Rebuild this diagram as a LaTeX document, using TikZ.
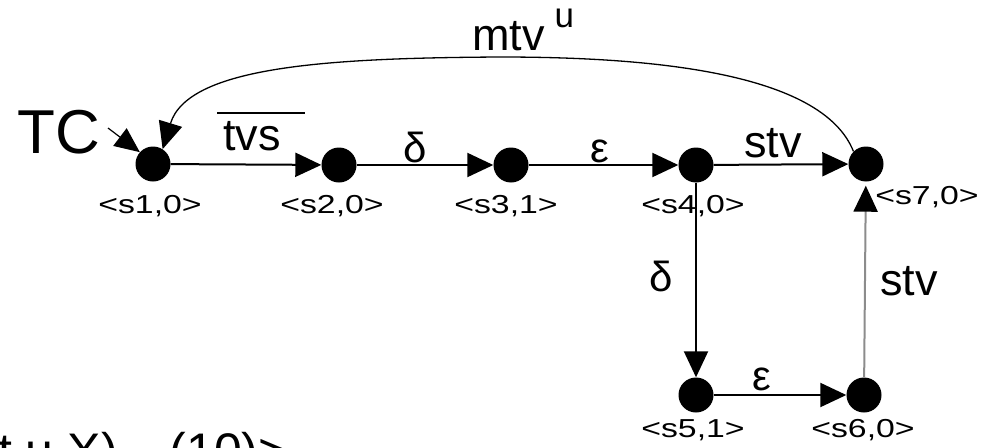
\documentclass[tikz,border=0pt]{standalone}
\usepackage{fontspec}
\setmainfont{Liberation Sans}
\newfontfamily\widefont[FakeStretch=1.3]{Liberation Sans}
\usetikzlibrary{arrows.meta}
\begin{document}
\begin{tikzpicture}[x=1pt,y=-1pt,
  state/.style={circle,fill=black,inner sep=0pt,minimum size=35pt},
  lbl/.style={font=\widefont\fontsize{26}{28}\selectfont,inner sep=0pt,anchor=base},
  elbl/.style={font=\fontsize{45}{50}\selectfont,inner sep=0pt,anchor=base},
  glbl/.style={font=\fontsize{42}{46}\selectfont,inner sep=0pt,anchor=base},
  edge/.style={line width=2pt,-{Triangle[length=26pt,width=24pt]}},
  faint/.style={line width=2pt,draw=black!45,-{Triangle[length=26pt,width=24pt,color=black]}},
  loop/.style={line width=1.3pt,-{Triangle[length=27pt,width=24pt]}},
]
\useasboundingbox (0,0) rectangle (990,447);

% states
\node[state] (s1) at (153,164) {};
\node[state] (s2) at (339,165) {};
\node[state] (s3) at (511,165) {};
\node[state] (s4) at (696,165) {};
\node[state] (s7) at (866,164) {};
\node[state] (s5) at (696,395) {};
\node[state] (s6) at (864,395) {};

% state names
\node[lbl] (l1) at (150,213) {<s1,0>};
\node[lbl] (l2) at (332,213) {<s2,0>};
\node[lbl] (l3) at (506,213) {<s3,1>};
\node[lbl] (l4) at (693,213) {<s4,0>};
\node[lbl] (l7) at (927,204) {<s7,0>};
\node[lbl] (l5) at (693,437) {<s5,1>};
\node[lbl] (l6) at (863,437) {<s6,0>};

% transitions
\draw[edge] (s1) -- (s2);
\draw[edge] (s2) -- (s3);
\draw[edge] (s3) -- (s4);
\draw[edge] (s4) -- (s7);
\draw[edge] (s4) -- (s5);
\draw[edge] (s5) -- (s6);
\draw[faint,shorten >=4pt] (s6) -- (s7);

% return transition
\coordinate (top) at (500,57);
\draw[loop] (s7.135) .. controls (822,72) and (650,57) .. (top)
  .. controls (330,58) and (188,66) .. (s1.57);

% initial arrow
\node[font=\fontsize{62}{66}\selectfont,inner sep=0pt,anchor=base] (tc) at (59,153) {TC};
\coordinate (tcstart) at (108,128);
\draw[line width=1.2pt,-{Triangle[length=25pt,width=22pt]}] (tcstart) -- (s1.138);

% transition labels
\node[elbl] (tvs) at (252,150) {tvs};
\draw[line width=2pt] (217,113) -- (305,113);
\node[glbl] (d1) at (415,162) {δ};
\node[glbl] (e1) at (600,162) {ε};
\node[elbl] (stv1) at (773,157) {stv};
\node[glbl] (d2) at (661,291) {δ};
\node[elbl] (stv2) at (909,295) {stv};
\node[glbl] (e2) at (762,390) {ε};
\node[elbl,anchor=base west] (mtv) at (472,50)
  {mtv\hspace{10pt}\raisebox{23pt}{\fontsize{35}{37}\selectfont u}};

% tuple text along the lower edge
\node[font=\fontsize{50}{54}\selectfont,inner sep=0pt,anchor=base west] (tuple) at (-2,468)
  {t u X),\hspace{38pt}(10)>};
\end{tikzpicture}
\end{document}
